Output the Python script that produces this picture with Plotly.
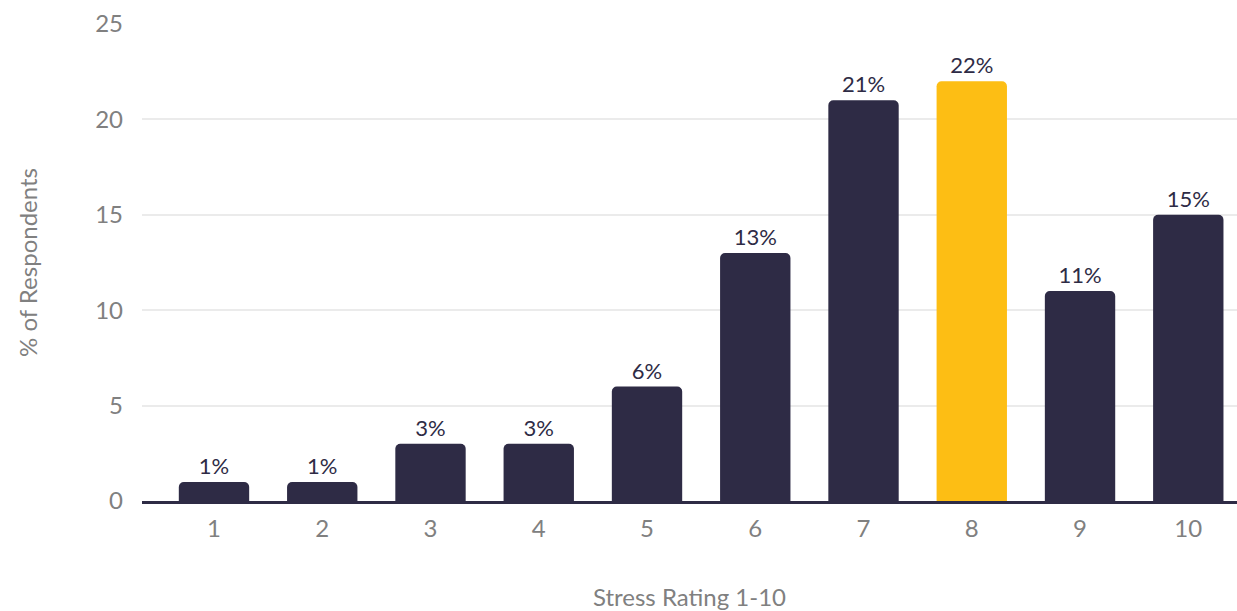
import plotly.graph_objects as go

ratings = ["1", "2", "3", "4", "5", "6", "7", "8", "9", "10"]
percent = [1, 1, 3, 3, 6, 13, 21, 22, 11, 15]
highlight = "8"

navy = "#2e2b45"
gold = "#fdbe14"
grey = "#808080"

colors = [gold if r == highlight else navy for r in ratings]
labels = [f"{v}%" for v in percent]

fig = go.Figure(
    go.Bar(
        x=ratings,
        y=percent,
        marker=dict(color=colors, cornerradius=5, line=dict(width=0)),
        width=0.65,
        text=labels,
        textposition="outside",
        cliponaxis=False,
        textfont=dict(family="Lato, sans-serif", size=22, color=navy),
    )
)

fig.update_layout(
    width=1237,
    height=611,
    margin=dict(l=142, r=0, t=24, b=110),
    plot_bgcolor="white",
    paper_bgcolor="white",
    font=dict(family="Lato, sans-serif", color=grey),
    showlegend=False,
    xaxis=dict(
        type="category",
        range=[-0.665, 9.45],
        showgrid=False,
        showline=True,
        linecolor=navy,
        linewidth=3,
        ticks="",
        ticklabelstandoff=4,
        tickfont=dict(size=24, color=grey),
        title=dict(text="Stress Rating 1-10", font=dict(size=24, color=grey), standoff=50),
    ),
    yaxis=dict(
        range=[0, 25],
        tickvals=[0, 5, 10, 15, 20, 25],
        showgrid=True,
        gridcolor="#ebebeb",
        gridwidth=2,
        zeroline=False,
        showline=False,
        ticks="",
        ticklabelstandoff=18,
        tickfont=dict(size=24, color=grey),
        title=dict(text="% of Respondents", font=dict(size=24, color=grey), standoff=50),
    ),
)

fig.write_html("out.html")
